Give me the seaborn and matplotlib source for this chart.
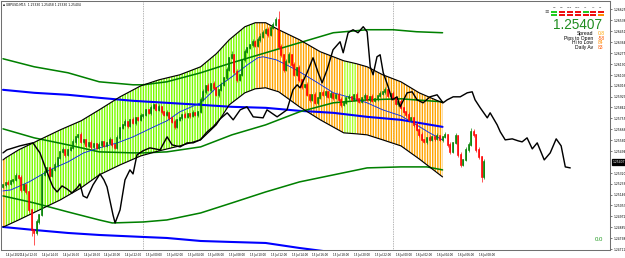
import matplotlib
matplotlib.use("Agg")
import matplotlib.pyplot as plt
import matplotlib.transforms as mtransforms
from matplotlib.patches import Rectangle
import seaborn as sns

# ------------------------------------------------------------------ data
header_text = "GBPUSD,M15  1.25330 1.25458 1.25330 1.25404"
current_price = 1.25407

first_open = 1.25207
closes = [
    1.25223, 1.25239, 1.25231, 1.25255, 1.25263, 1.25295, 1.25279, 1.25183, 1.25223, 1.25167,
    1.25023, 1.24863, 1.24839, 1.24927, 1.24983, 1.25303, 1.25327, 1.25359, 1.25295, 1.25343,
    1.25383, 1.25439, 1.25487, 1.25503, 1.25463, 1.25503, 1.25519, 1.25567, 1.25607, 1.25623,
    1.25567, 1.25583, 1.25535, 1.25559, 1.25527, 1.25551, 1.25519, 1.25543, 1.25567, 1.25535,
    1.25559, 1.25583, 1.25543, 1.25519, 1.25599, 1.25679, 1.25703, 1.25727, 1.25695, 1.25743,
    1.25719, 1.25759, 1.25743, 1.25775, 1.25783, 1.25823, 1.25799, 1.25839, 1.25863, 1.25823,
    1.25847, 1.25807, 1.25783, 1.25799, 1.25759, 1.25727, 1.25687, 1.25743, 1.25759, 1.25783,
    1.25767, 1.25791, 1.25775, 1.25799, 1.25783, 1.25807, 1.25903, 1.25967, 1.26015, 1.25983,
    1.26031, 1.25999, 1.25943, 1.25983, 1.26023, 1.26079, 1.26143, 1.26239, 1.26263, 1.26127,
    1.26063, 1.26103, 1.26223, 1.26287, 1.26319, 1.26343, 1.26367, 1.26335, 1.26383, 1.26407,
    1.26439, 1.26463, 1.26423, 1.26479, 1.26503, 1.26543, 1.26327, 1.26263, 1.26143, 1.26207,
    1.26263, 1.26183, 1.26103, 1.26159, 1.26063, 1.26007, 1.26023, 1.25943, 1.25903, 1.25943,
    1.25879, 1.25919, 1.25959, 1.25943, 1.25967, 1.25927, 1.25951, 1.25919, 1.25943, 1.25903,
    1.25863, 1.25879, 1.25919, 1.25927, 1.25903, 1.25943, 1.25911, 1.25887, 1.25919, 1.25935,
    1.25903, 1.25927, 1.25895, 1.25911, 1.25935, 1.25951, 1.25967, 1.25983, 1.25935, 1.25951,
    1.25919, 1.25871, 1.25887, 1.25839, 1.25807, 1.25783, 1.25743, 1.25759, 1.25703, 1.25663,
    1.25623, 1.25583, 1.25567, 1.25599, 1.25583, 1.25607, 1.25591, 1.25615, 1.25583, 1.25607,
    1.25623, 1.25543, 1.25487, 1.25559, 1.25615, 1.25463, 1.25383, 1.25423, 1.25503, 1.25543,
    1.25647, 1.25623, 1.25503, 1.25447, 1.25287, 1.25407,
]
upper_wick_pips = [
    1, 1, 2, 1, 1, 2, 1, 2, 1, 1, 1, 1, 1, 2, 1, 1, 2, 1, 1, 1,
    2, 1, 1, 2, 1, 1, 1, 2, 1, 1, 2, 1, 1, 1, 2, 1, 1, 2, 1, 1,
    1, 2, 1, 1, 2, 1, 1, 2, 1, 1, 2, 1, 1, 2, 1, 1, 1, 2, 1, 1,
    2, 1, 1, 2, 1, 1, 2, 1, 1, 1, 2, 1, 1, 2, 1, 1, 2, 2, 1, 2,
    1, 2, 1, 1, 2, 1, 2, 1, 3, 1, 2, 1, 1, 2, 1, 1, 2, 1, 2, 3,
    2, 1, 2, 1, 2, 2, 7, 2, 1, 2, 2, 1, 2, 1, 2, 1, 1, 2, 1, 1,
    2, 1, 1, 2, 1, 1, 2, 1, 1, 2, 2, 1, 1, 2, 1, 1, 2, 1, 1, 2,
    1, 1, 2, 1, 1, 2, 1, 2, 1, 1, 2, 1, 1, 2, 1, 1, 2, 1, 1, 2,
    1, 2, 1, 1, 2, 1, 1, 2, 1, 1, 2, 1, 2, 1, 2, 1, 2, 1, 2, 2,
    3, 2, 1, 2, 1, 2,
]
lower_wick_pips = [
    1, 2, 1, 1, 2, 1, 1, 2, 1, 2, 2, 5, 10, 2, 2, 1, 1, 2, 1, 1,
    1, 2, 1, 1, 2, 1, 1, 1, 2, 1, 1, 2, 1, 1, 2, 1, 1, 1, 2, 1,
    1, 1, 2, 1, 1, 2, 1, 1, 2, 1, 1, 2, 1, 1, 2, 1, 1, 2, 1, 1,
    1, 2, 1, 1, 2, 1, 2, 1, 1, 2, 1, 1, 2, 1, 1, 2, 1, 1, 2, 1,
    2, 1, 1, 2, 1, 1, 2, 1, 1, 2, 2, 1, 1, 2, 1, 1, 2, 1, 1, 2,
    1, 1, 2, 1, 1, 1, 2, 2, 2, 1, 1, 2, 1, 1, 2, 2, 1, 1, 2, 1,
    1, 2, 1, 1, 2, 1, 1, 2, 1, 1, 2, 1, 1, 2, 1, 1, 2, 1, 1, 2,
    1, 2, 1, 1, 2, 1, 1, 2, 1, 1, 2, 1, 2, 1, 1, 2, 1, 1, 2, 1,
    2, 1, 1, 2, 1, 1, 2, 1, 1, 2, 1, 2, 2, 1, 1, 2, 2, 1, 1, 2,
    1, 2, 2, 2, 4, 2,
]

band_bars = [0, 1, 6, 14, 22, 30, 37, 45, 53, 60, 68, 76, 82, 87, 93, 97, 101, 106,
             114, 122, 131, 136, 140, 146, 153, 160, 169]
band_upper = [1.25423, 1.25439, 1.25503, 1.25583, 1.25663, 1.25735, 1.25823, 1.25927, 1.26015,
              1.26063, 1.26103, 1.26167, 1.26271, 1.26383, 1.26487, 1.26519, 1.26519, 1.26463,
              1.26383, 1.26287, 1.26215, 1.26191, 1.26167, 1.26103, 1.26047, 1.25959, 1.25879]
band_lower = [1.24887, 1.24895, 1.24943, 1.25023, 1.25103, 1.25199, 1.25303, 1.25383, 1.25455,
              1.25495, 1.25535, 1.25583, 1.25703, 1.25863, 1.25959, 1.25991, 1.25999, 1.25967,
              1.25847, 1.25743, 1.25639, 1.25631, 1.25623, 1.25583, 1.25535, 1.25431, 1.25287]
trend_run_start = [0, 1, 97, 131, 136]
trend_run_end = [1, 97, 131, 136, 169]
trend_run_state = ["down", "up", "down", "flat", "down"]

osc_bars = [0, 1.5, 6.5, 11.5, 14.2, 16.2, 18.1, 19.2, 20.8, 22.7,
            24.6, 26.5, 28.5, 29.6, 30.8, 32.3, 34.6, 37.3, 38.8, 40,
            42.3, 43.1, 45, 46.9, 48.8, 50, 51.5, 53.8, 56.5, 60.4,
            63.1, 65, 68.1, 70.8, 73.1, 75.8, 78.5, 80.8, 83.5, 86.2,
            88.5, 91.2, 93.8, 96.2, 100, 101.5, 105.4, 109.2, 111.5, 113.1,
            114.2, 116.9, 119.2, 121.2, 122.7, 124.6, 126.9, 129.6, 130.8, 132.7,
            134.6, 136.5, 138.5, 140, 141.2, 142.3, 143.8, 145, 146.2, 148.1,
            149.6, 151.5, 152.7, 155.4, 157.3, 159.2, 161.5, 164.2, 166.9, 169.2,
            170.8, 173.1, 175.8, 178.5, 180.4, 181.5, 183.5, 186.2, 187.3, 190,
            191.2, 193.1, 195.8, 198.1, 199.6, 201.5, 203.5, 205.4, 208.1, 210.4,
            212.7, 214.6, 216.2, 218.1]
osc_vals = [1.25479, 1.25503, 1.25535, 1.25559, 1.25479, 1.25367, 1.25263, 1.25207, 1.25167, 1.25215,
            1.25191, 1.25159, 1.25199, 1.25231, 1.25135, 1.25119, 1.25223, 1.25311, 1.25263, 1.25207,
            1.24983, 1.24919, 1.25023, 1.25263, 1.25343, 1.25311, 1.25463, 1.25495, 1.25519, 1.25503,
            1.25607, 1.25543, 1.25527, 1.25559, 1.25559, 1.25583, 1.25647, 1.25687, 1.25751, 1.25799,
            1.25743, 1.25823, 1.25847, 1.25767, 1.25759, 1.25823, 1.25767, 1.25823, 1.25983, 1.26023,
            1.25999, 1.26119, 1.26239, 1.26119, 1.26039, 1.26143, 1.26303, 1.26367, 1.26279, 1.26439,
            1.26463, 1.26439, 1.26487, 1.26447, 1.26167, 1.26103, 1.26247, 1.26263, 1.26119, 1.26007,
            1.25903, 1.25927, 1.25847, 1.25959, 1.25967, 1.25903, 1.25879, 1.25927, 1.25943, 1.25879,
            1.25903, 1.25927, 1.25927, 1.25959, 1.25967, 1.25903, 1.25839, 1.25759, 1.25799, 1.25703,
            1.25647, 1.25583, 1.25591, 1.25575, 1.25567, 1.25599, 1.25511, 1.25559, 1.25423, 1.25479,
            1.25591, 1.25535, 1.25367, 1.25359]

green_upper_bars = [0, 12, 25, 37, 50, 54, 63, 76, 88, 101, 114, 127, 140, 150, 159, 169]
green_upper_vals = [1.26231, 1.26167, 1.26119, 1.26047, 1.26023, 1.26023, 1.26047, 1.26119,
                    1.26199, 1.26279, 1.26359, 1.26439, 1.26463, 1.26463, 1.26447, 1.26439]
green_mid_bars = [0, 12, 25, 37, 50, 54, 63, 76, 88, 101, 114, 127, 140, 153, 169]
green_mid_vals = [1.25671, 1.25599, 1.25543, 1.25487, 1.25479, 1.25479, 1.25487, 1.25527,
                  1.25623, 1.25703, 1.25807, 1.25879, 1.25903, 1.25911, 1.25887]
green_low_bars = [0, 12, 25, 37, 42, 54, 63, 76, 88, 101, 114, 127, 140, 153, 163, 169]
green_low_vals = [1.25135, 1.25079, 1.25007, 1.24943, 1.24919, 1.24927, 1.24943, 1.24999,
                  1.25079, 1.25167, 1.25247, 1.25303, 1.25359, 1.25367, 1.25367, 1.25343]

blue_upper_bars = [0, 12, 25, 37, 50, 63, 76, 88, 101, 114, 127, 140, 153, 169]
blue_upper_vals = [1.25983, 1.25959, 1.25943, 1.25919, 1.25895, 1.25879, 1.25863, 1.25847,
                   1.25839, 1.25815, 1.25799, 1.25767, 1.25743, 1.25687]
blue_lower_bars = [0, 12, 25, 37, 54, 63, 76, 88, 101, 114, 126]
blue_lower_vals = [1.24887, 1.24863, 1.24839, 1.24823, 1.24807, 1.24799, 1.24775, 1.24767,
                   1.24759, 1.24719, 1.24687]

ma_bars = [0, 3, 10, 18, 25, 31, 37, 44, 50, 58, 63, 68, 76, 82, 88, 94, 98, 100, 105, 109,
           114, 121, 127, 134, 140, 146, 153, 159, 164, 169]
ma_vals = [1.25175, 1.25183, 1.25247, 1.25343, 1.25407, 1.25479, 1.25519, 1.25559, 1.25607,
           1.25687, 1.25735, 1.25807, 1.25879, 1.25999, 1.26087, 1.26183, 1.26239, 1.26247,
           1.26223, 1.26183, 1.26127, 1.26039, 1.25959, 1.25919, 1.25879, 1.25823, 1.25775,
           1.25703, 1.25639, 1.25583]

day_separator_bars = [54, 150]

xtick_bars = [0, 6, 14, 22, 30, 38, 46, 54, 62, 70, 78, 86, 94, 102, 110, 118, 126, 134,
              142, 150, 158, 166, 174, 182]
xtick_labels = ["14 Jul 2020", "14 Jul 12:00", "14 Jul 14:00", "14 Jul 16:00", "14 Jul 18:00",
                "14 Jul 20:00", "14 Jul 22:00", "15 Jul 00:00", "15 Jul 02:00", "15 Jul 04:00",
                "15 Jul 06:00", "15 Jul 08:00", "15 Jul 10:00", "15 Jul 12:00", "15 Jul 14:00",
                "15 Jul 16:00", "15 Jul 18:00", "15 Jul 20:00", "15 Jul 22:00", "16 Jul 00:00",
                "16 Jul 02:00", "16 Jul 04:00", "16 Jul 06:00", "16 Jul 08:00"]
ytick_values = [1.26625, 1.26538, 1.26451, 1.26364, 1.26277, 1.26190, 1.26103, 1.26016,
                1.25929, 1.25842, 1.25755, 1.25668, 1.25581, 1.25494, 1.25320, 1.25233,
                1.25146, 1.25059, 1.24972, 1.24885, 1.24798, 1.24711]

panel_labels = ["Spread", "Pips to Open", "Hi to Low", "Daily Av"]
panel_values = ["0.8", "-58", "84", "83"]
panel_value_colors = ["#FFA500", "#FF5A00", "#FF8C00", "#FF5A00"]
mtf_labels = ["M1", "M5", "M15", "M30", "H1", "H4", "D1"]
mtf_row1 = ["#22CC22", "#EE1111", "#EE1111", "#EE1111", "#22CC22", "#EE1111", "#EE1111"]
mtf_row2 = ["#22CC22", "#EE1111", "#EE1111", "#EE1111", "#EE1111", "#EE1111", "#FF8C00"]
bottom_value = "0.0"

# ------------------------------------------------------------------ style
sns.set_style("white")
plt.rcParams["font.family"] = ["DejaVu Sans"]
plt.rcParams["hatch.linewidth"] = 1.1

DPI = 93.6
W, H = 625, 258
fig = plt.figure(figsize=(625.3 / DPI, 258.3 / DPI), dpi=DPI)
fig.patch.set_facecolor("white")
ax = fig.add_axes([1 / W, 8 / H, 609 / W, 249 / H])
ax.set_facecolor("white")
ax.set_xlim(-0.77, 233.5)
ax.set_ylim(1.24703, 1.26695)


def fpx(x, y):
    return x / W, 1 - y / H


# striped channel (hatched fill between upper and lower band)
state_color = {"up": "#7CFC00", "down": "#FFA500", "flat": "#ADFF2F"}
for s, e, st in zip(trend_run_start, trend_run_end, trend_run_state):
    idx = [i for i, b in enumerate(band_bars) if s <= b <= e]
    xs = [band_bars[i] for i in idx]
    up = [band_upper[i] for i in idx]
    lo = [band_lower[i] for i in idx]
    ax.fill(xs + xs[::-1], up + lo[::-1], facecolor="none",
            edgecolor=state_color[st], hatch="||||||", linewidth=0, zorder=1)

# thick blue lines
sns.lineplot(x=blue_upper_bars, y=blue_upper_vals, ax=ax, color="#0000FF", linewidth=1.6,
             estimator=None, sort=False, legend=False, zorder=2)
sns.lineplot(x=blue_lower_bars, y=blue_lower_vals, ax=ax, color="#0000FF", linewidth=1.6,
             estimator=None, sort=False, legend=False, zorder=2)

# green envelope
for bx, by in [(green_upper_bars, green_upper_vals), (green_mid_bars, green_mid_vals),
               (green_low_bars, green_low_vals)]:
    sns.lineplot(x=bx, y=by, ax=ax, color="#008000", linewidth=1.2, estimator=None,
                 sort=False, legend=False, zorder=3)

# channel borders
sns.lineplot(x=band_bars, y=band_upper, ax=ax, color="black", linewidth=0.9,
             estimator=None, sort=False, legend=False, zorder=3)
sns.lineplot(x=band_bars, y=band_lower, ax=ax, color="black", linewidth=0.9,
             estimator=None, sort=False, legend=False, zorder=3)

# thin moving average
sns.lineplot(x=ma_bars, y=ma_vals, ax=ax, color="#1030E0", linewidth=0.7,
             estimator=None, sort=False, legend=False, zorder=3.5)

# candlesticks
bars_x = list(range(len(closes)))
opens = [first_open] + closes[:-1]
body_lo, body_hi, wick_lo, wick_hi, cols = [], [], [], [], []
for o, c, uw, lw_ in zip(opens, closes, upper_wick_pips, lower_wick_pips):
    lo_, hi_ = min(o, c), max(o, c)
    body_lo.append(lo_)
    body_hi.append(hi_)
    wick_lo.append(lo_ - lw_ * 0.0001)
    wick_hi.append(hi_ + uw * 0.0001)
    cols.append("#008000" if c >= o else "#FF0000")
ax.vlines(bars_x, wick_lo, wick_hi, colors=cols, linewidth=0.5, zorder=4)
bodies = ax.vlines(bars_x, body_lo, body_hi, colors=cols, linewidth=1.25, zorder=4.1)
bodies.set_capstyle("projecting")

# day separators
for b in day_separator_bars:
    ax.axvline(b, color="#8c8c8c", linestyle=(0, (1, 1.2)), linewidth=0.6, zorder=0.5)

# black oscillator line
sns.lineplot(x=osc_bars, y=osc_vals, ax=ax, color="black", linewidth=1.1,
             estimator=None, sort=False, legend=False, zorder=5)

# axes
for sp in ax.spines.values():
    sp.set_color("#707070")
    sp.set_linewidth(0.8)
ax.yaxis.tick_right()
ax.set_yticks(ytick_values)
ax.set_yticklabels([f"{v:.5f}" for v in ytick_values])
ax.tick_params(axis="y", labelsize=2.3, length=1.5, width=0.4, pad=0.8, colors="black")
ax.set_xticks(xtick_bars)
ax.set_xticklabels(xtick_labels)
ax.tick_params(axis="x", labelsize=2.1, length=1.5, width=0.4, pad=0.8, colors="black")
offset = mtransforms.ScaledTranslation(2.5 / DPI, 0, fig.dpi_scale_trans)
for lab in ax.get_xticklabels():
    lab.set_ha("left")
    lab.set_transform(lab.get_transform() + offset)
ax.set_xlabel("")
ax.set_ylabel("")

# current price box on the right axis
trans = mtransforms.blended_transform_factory(ax.transAxes, ax.transData)
ax.text(1.004, current_price, f"{current_price:.5f}", transform=trans, fontsize=2.3,
        color="white", va="center", ha="left",
        bbox=dict(boxstyle="square,pad=0.35", fc="black", ec="black"), zorder=10,
        clip_on=False)

# header text
fig.text(*fpx(3, 4.5), "\u25aa " + header_text, fontsize=2.3, color="black",
         va="center", ha="left")

# info panel
fig.text(*fpx(602, 24.5), f"{current_price:.5f}", fontsize=10.5, color="#1E8C1E",
         ha="right", va="center", family=["Liberation Sans", "DejaVu Sans"])
rows_y = [33.3, 38.0, 42.7, 47.5]
for lab, val, vc, yy in zip(panel_labels, panel_values, panel_value_colors, rows_y):
    fig.text(*fpx(592.5, yy), lab, fontsize=3.9, color="black", ha="right", va="center",
             family=["Liberation Sans", "DejaVu Sans"])
    fig.text(*fpx(597, yy), val, fontsize=3.9, color=vc, ha="left", va="center",
             family=["Liberation Sans", "DejaVu Sans"])
col_x = [551, 558.5, 566.5, 574.5, 582.5, 590, 597.5]
for lab, cx, c1, c2 in zip(mtf_labels, col_x, mtf_row1, mtf_row2):
    fig.text(*fpx(cx + 3, 7.2), lab, fontsize=1.9, color="#333333", ha="center", va="center")
    fig.add_artist(Rectangle(fpx(cx, 13.3), 6 / W, 2 / H, transform=fig.transFigure,
                             facecolor=c1, edgecolor="none"))
    fig.add_artist(Rectangle(fpx(cx, 16.3), 6 / W, 2 / H, transform=fig.transFigure,
                             facecolor=c2, edgecolor="none"))
fig.text(*fpx(546.5, 12), "\u2261", fontsize=4, color="#444444", ha="center", va="center")

fig.text(*fpx(594, 239.5), bottom_value, fontsize=4.6, color="#1E9A1E", ha="left",
         va="center", family=["Liberation Sans", "DejaVu Sans"])

fig.savefig("out.png", dpi=DPI, facecolor="white")
